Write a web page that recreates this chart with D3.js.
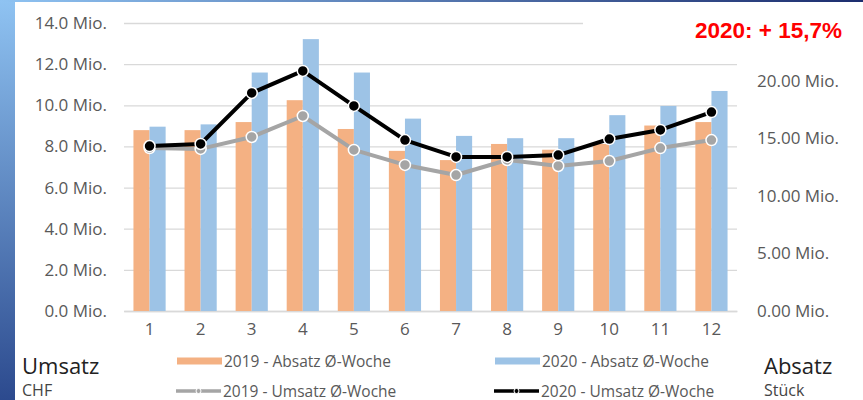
<!DOCTYPE html>
<html>
<head>
<meta charset="utf-8">
<script src="https://cdn.jsdelivr.net/npm/d3@7"></script>
<style>
  body { margin: 0; background: #fff; }
  svg text { font-family: "Open Sans", "Noto Sans", sans-serif; }
</style>
</head>
<body>
<svg id="chart" width="863" height="400"></svg>
<script>
// months 1..12
var months = ["1", "2", "3", "4", "5", "6", "7", "8", "9", "10", "11", "12"];

// Absatz (Stück, Mio.) - right axis
var absatz2019 = [15.7, 15.7, 16.4, 18.3, 15.8, 13.9, 13.1, 14.5, 14.0, 14.5, 16.1, 16.4];
var absatz2020 = [16.0, 16.2, 20.7, 23.6, 20.7, 16.7, 15.2, 15.0, 15.0, 17.0, 17.8, 19.1];

// Umsatz (CHF, Mio.) - left axis
var umsatz2019 = [7.92, 7.88, 8.46, 9.48, 7.83, 7.10, 6.61, 7.34, 7.05, 7.29, 7.92, 8.31];
var umsatz2020 = [8.02, 8.12, 10.60, 11.67, 9.97, 8.31, 7.49, 7.49, 7.58, 8.36, 8.80, 9.67];

var leftTicks = [0, 2, 4, 6, 8, 10, 12, 14];
var rightTicks = [0, 5, 10, 15, 20];

var svg = d3.select("svg#chart");

// blue frame on the left and on top
var defs = svg.append("defs");
var gv = defs.append("linearGradient").attr("id", "side").attr("x1", 0).attr("y1", 0).attr("x2", 0).attr("y2", 1);
gv.append("stop").attr("offset", "0%").attr("stop-color", "#8fc3f2");
gv.append("stop").attr("offset", "100%").attr("stop-color", "#2c4a8e");
var gh = defs.append("linearGradient").attr("id", "top").attr("x1", 0).attr("y1", 0).attr("x2", 1).attr("y2", 0);
gh.append("stop").attr("offset", "0%").attr("stop-color", "#8fc3f2");
gh.append("stop").attr("offset", "100%").attr("stop-color", "#1c2d6e");

svg.append("rect").attr("x", 0).attr("y", 0).attr("width", 15).attr("height", 400).style("fill", "url(#side)");
svg.append("rect").attr("x", 0).attr("y", 0).attr("width", 863).attr("height", 2).style("fill", "url(#top)");

var margin = { left: 124, right: 126, top: 23, bottom: 89 };
var plotWidth = 863 - margin.left - margin.right;
var plotHeight = 400 - margin.top - margin.bottom;

var x = d3.scaleBand().domain(months).range([0, plotWidth]).paddingInner(0.37).paddingOuter(0.185);
var xSub = d3.scaleBand().domain(["2019", "2020"]).range([0, x.bandwidth()]);
var yLeft = d3.scaleLinear().domain([0, 14]).range([plotHeight, 0]);
var yRight = d3.scaleLinear().domain([0, 25]).range([plotHeight, 0]);

var plot = svg.append("g").attr("transform", "translate(" + margin.left + "," + margin.top + ")");

// gridlines
var grid = plot.append("g")
    .call(d3.axisLeft(yLeft).tickValues(leftTicks).tickSize(-plotWidth).tickFormat(""));
grid.select(".domain").remove();
grid.selectAll("line").attr("stroke", "#d9d9d9").attr("stroke-width", 1.3);

// left axis labels
var yAxisL = plot.append("g")
    .call(d3.axisLeft(yLeft).tickValues(leftTicks).tickSize(0).tickPadding(17)
        .tickFormat(function (d) { return d3.format(".1f")(d) + " Mio."; }));
yAxisL.select(".domain").remove();
yAxisL.selectAll("text").style("font-size", "17px").attr("fill", "#595959");

// right axis labels
var yAxisR = plot.append("g").attr("transform", "translate(" + plotWidth + ",0)")
    .call(d3.axisRight(yRight).tickValues(rightTicks).tickSize(0).tickPadding(20)
        .tickFormat(function (d) { return d3.format(".2f")(d) + " Mio."; }));
yAxisR.select(".domain").remove();
yAxisR.selectAll("text").style("font-size", "17px").attr("fill", "#595959");

// x axis
var xAxis = plot.append("g").attr("transform", "translate(0," + plotHeight + ")")
    .call(d3.axisBottom(x).tickSize(0).tickPadding(12));
xAxis.select(".domain").attr("stroke", "#d9d9d9").attr("stroke-width", 1.3);
xAxis.selectAll("text").style("font-size", "17px").attr("fill", "#595959");

// bars
var barData = months.map(function (m, i) {
    return { month: m, values: [
        { key: "2019", value: absatz2019[i], color: "#f4b183" },
        { key: "2020", value: absatz2020[i], color: "#9dc3e6" }
    ] };
});

var groups = plot.selectAll("g.month").data(barData).enter().append("g")
    .attr("class", "month")
    .attr("transform", function (d) { return "translate(" + x(d.month) + ",0)"; });

groups.selectAll("rect").data(function (d) { return d.values; }).enter().append("rect")
    .attr("x", function (d) { return xSub(d.key); })
    .attr("width", xSub.bandwidth())
    .attr("y", function (d) { return yRight(d.value); })
    .attr("height", function (d) { return plotHeight - yRight(d.value); })
    .style("fill", function (d) { return d.color; });

// lines
var line = d3.line()
    .x(function (d, i) { return x(months[i]) + x.bandwidth() / 2; })
    .y(function (d) { return yLeft(d); });

function drawLine(values, color, dot) {
    plot.append("path").datum(values)
        .attr("d", line)
        .style("fill", "none")
        .style("stroke", color)
        .style("stroke-width", 4)
        .style("stroke-linejoin", "round");
    plot.selectAll(null).data(values).enter().append("circle")
        .attr("cx", function (d, i) { return x(months[i]) + x.bandwidth() / 2; })
        .attr("cy", function (d) { return yLeft(d); })
        .attr("r", 5.5)
        .style("fill", dot)
        .style("stroke", "#fff")
        .style("stroke-width", 1.5);
}
drawLine(umsatz2019, "#a5a5a5", "#a5a5a5");
drawLine(umsatz2020, "#000000", "#000000");

// white box with the red note (covers top of the chart on the right)
svg.append("rect").attr("x", 583).attr("y", 3).attr("width", 280).attr("height", 45).style("fill", "#fff");
svg.append("text")
    .attr("x", 842).attr("y", 38)
    .style("text-anchor", "end")
    .style("font-family", "'Liberation Sans', Arial, sans-serif")
    .style("font-weight", "bold")
    .style("font-size", "22.5px")
    .style("fill", "#ff0000")
    .text("2020: + 15,7%");

// legend
var legend = [
    { label: "2019 - Absatz Ø-Woche", type: "bar", color: "#f4b183", x: 177, y: 361 },
    { label: "2020 - Absatz Ø-Woche", type: "bar", color: "#9dc3e6", x: 495, y: 361 },
    { label: "2019 - Umsatz Ø-Woche", type: "line", color: "#a5a5a5", x: 176, y: 391 },
    { label: "2020 - Umsatz Ø-Woche", type: "line", color: "#000000", x: 494, y: 391 }
];
legend.forEach(function (l) {
    if (l.type === "bar") {
        svg.append("rect").attr("x", l.x).attr("y", l.y - 3.5).attr("width", 45).attr("height", 7).style("fill", l.color);
    } else {
        svg.append("line").attr("x1", l.x).attr("x2", l.x + 45).attr("y1", l.y).attr("y2", l.y)
            .style("stroke", l.color).style("stroke-width", 3.5);
        svg.append("circle").attr("cx", l.x + 22.5).attr("cy", l.y).attr("r", 2.5)
            .style("fill", l.color).style("stroke", "#fff").style("stroke-width", 1);
    }
    svg.append("text").attr("x", l.x + 47).attr("y", l.y + 5.5)
        .style("font-size", "15.5px").style("fill", "#595959").text(l.label);
});

// axis titles
svg.append("text").attr("x", 22).attr("y", 374).style("font-size", "22px").style("fill", "#222").text("Umsatz");
svg.append("text").attr("x", 22).attr("y", 396).style("font-size", "16px").style("fill", "#444").text("CHF");
svg.append("text").attr("x", 764).attr("y", 374).style("font-size", "22px").style("fill", "#222").text("Absatz");
svg.append("text").attr("x", 764).attr("y", 396).style("font-size", "16px").style("fill", "#444").text("Stück");
</script>
</body>
</html>
